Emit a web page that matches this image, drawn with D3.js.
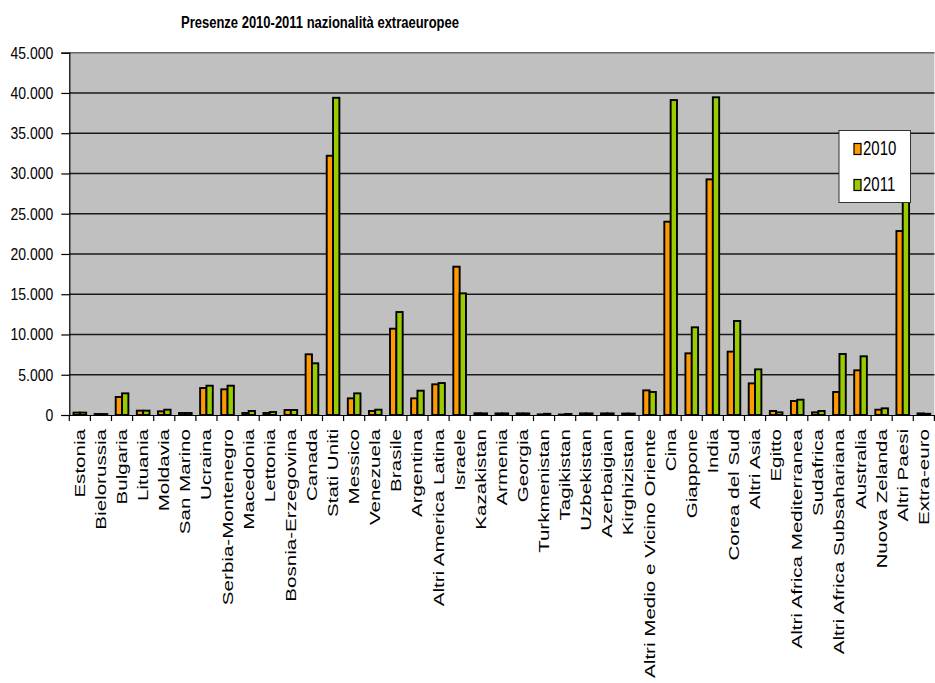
<!DOCTYPE html>
<html><head><meta charset="utf-8">
<script src="https://cdn.jsdelivr.net/npm/d3@7"></script>
<style>body{margin:0;background:#fff}svg{display:block}</style>
</head><body>
<svg id="c" width="935" height="683"></svg>
<script>
const categories = ["Estonia","Bielorussia","Bulgaria","Lituania","Moldavia","San Marino","Ucraina","Serbia-Montenegro","Macedonia","Lettonia","Bosnia-Erzegovina","Canada","Stati Uniti","Messico","Venezuela","Brasile","Argentina","Altri America Latina","Israele","Kazakistan","Armenia","Georgia","Turkmenistan","Tagikistan","Uzbekistan","Azerbaigian","Kirghizistan","Altri Medio e Vicino Oriente","Cina","Giappone","India","Corea del Sud","Altri Asia","Egitto","Altri Africa Mediterranea","Sudafrica","Altri Africa Subsahariana","Australia","Nuova Zelanda","Altri Paesi","Extra-euro"];
const values2010 = [300,120,2240,540,460,250,3350,3190,250,250,620,7540,32200,2070,500,10720,2070,3810,18420,220,200,200,80,60,200,200,180,3060,24010,7660,29270,7870,3930,500,1740,330,2860,5550,660,22850,200];
const values2011 = [300,120,2690,540,660,250,3640,3640,500,370,620,6420,39400,2690,660,12790,3020,3970,15110,200,200,200,150,130,200,200,180,2860,39120,10890,39460,11680,5670,330,1900,500,7580,7290,830,29700,150];
const seriesNames = ["2010","2011"];
const seriesColors = ["#FF9900","#99CC00"];
const yTicks = [0,5000,10000,15000,20000,25000,30000,35000,40000,45000];
const titleText = "Presenze 2010-2011 nazionalità extraeuropee";

const svg = d3.select("#c");
const plot = {left:69.3, right:934.4, top:52.7, bottom:415};
const x = d3.scaleBand().domain(categories).range([plot.left, plot.right]).padding(0);
const y = d3.scaleLinear().domain([0,45000]).range([plot.bottom, plot.top]);
const fmt = d => d3.format(",")(d).replace(/,/g,".");
const FONT = "'Liberation Sans', Arial, sans-serif";

svg.append("rect").attr("x",plot.left).attr("y",plot.top)
  .attr("width",plot.right-plot.left).attr("height",plot.bottom-plot.top)
  .attr("fill","#C0C0C0");

svg.append("g").selectAll("line").data(yTicks.filter(d=>d>0)).join("line")
  .attr("x1",plot.left).attr("x2",plot.right)
  .attr("y1",d=>y(d)).attr("y2",d=>y(d))
  .attr("stroke",d=>d===45000?"#666":"#1a1a1a").attr("stroke-width",1.5);

const bw = x.bandwidth()*0.3;
const series = [values2010, values2011];
series.forEach((vals,si)=>{
  svg.append("g").selectAll("rect").data(categories).join("rect")
    .attr("x",(c)=>x(c)+x.bandwidth()/2 + (si===0?-bw:0))
    .attr("width",bw)
    .attr("y",(c,i)=>y(vals[i]))
    .attr("height",(c,i)=>y(0)-y(vals[i]))
    .attr("fill",seriesColors[si])
    .attr("stroke","#000").attr("stroke-width",1.9);
});

const yAxis = svg.append("g").attr("transform",`translate(${plot.left},0)`)
  .call(d3.axisLeft(y).tickValues(yTicks).tickSize(8).tickPadding(8).tickFormat(fmt));
yAxis.select(".domain").attr("stroke","#000").attr("stroke-width",1.2);
yAxis.selectAll(".tick line").attr("stroke","#000").attr("stroke-width",1.2);
yAxis.selectAll("text").attr("font-family",FONT).attr("font-size",14).attr("fill","#000")
  .attr("transform","scale(1,1.2)");

const xAxis = svg.append("g").attr("transform",`translate(0,${plot.bottom})`)
  .call(d3.axisBottom(x).tickSize(0).tickFormat(""));
xAxis.select(".domain").attr("stroke","#000").attr("stroke-width",1.2);
const bounds = categories.map(c=>x(c)).concat([plot.right]);
svg.append("g").selectAll("line").data(bounds).join("line")
  .attr("x1",d=>d).attr("x2",d=>d).attr("y1",plot.bottom).attr("y2",plot.bottom+6)
  .attr("stroke","#000").attr("stroke-width",1.2);

svg.append("g").selectAll("text").data(categories).join("text")
  .attr("transform",c=>`translate(${x(c)+x.bandwidth()/2},429) rotate(-90) scale(1.47,1)`)
  .attr("text-anchor","end").attr("dy","0.36em")
  .attr("font-family",FONT).attr("font-size",14).attr("fill","#000")
  .text(c=>c);

svg.append("text").attr("transform","translate(181,27.7) scale(1,1.3)")
  .attr("font-family",FONT).attr("font-weight","bold").attr("font-size",12)
  .attr("textLength",278).attr("lengthAdjust","spacingAndGlyphs")
  .text(titleText);

const lg = svg.append("g");
lg.append("rect").attr("x",839).attr("y",130.5).attr("width",71.5).attr("height",72)
  .attr("fill","#fff").attr("stroke","#333").attr("stroke-width",1);
seriesNames.forEach((s,i)=>{
  const yy = 143.5 + i*36;
  lg.append("rect").attr("x",854).attr("y",yy).attr("width",7).attr("height",11)
    .attr("fill",seriesColors[i]).attr("stroke","#000").attr("stroke-width",1.2);
  lg.append("text").attr("transform",`translate(863,${yy+11.5}) scale(1,1.3)`)
    .attr("font-family",FONT).attr("font-size",15).attr("fill","#000").text(s);
});
</script>
</body></html>
